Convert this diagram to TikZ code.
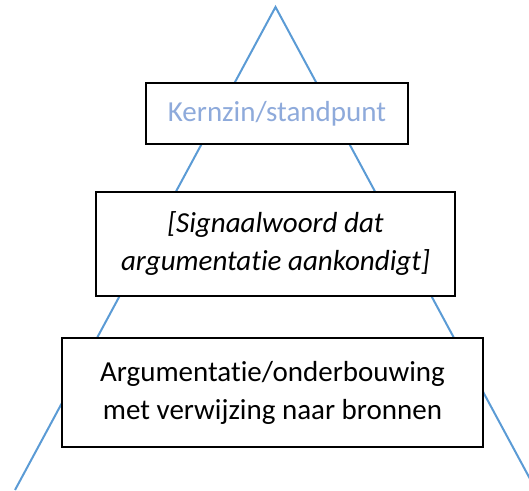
\documentclass[tikz,border=0pt]{standalone}
\usepackage{fontspec}
\setmainfont{Carlito}[Ligatures=NoCommon]
\definecolor{lineblue}{HTML}{5B9BD5}
\definecolor{textblue}{HTML}{8EAADB}
\begin{document}
\begin{tikzpicture}[x=1pt,y=-1pt,
  box/.style={draw=black,fill=white,line width=1.2pt,inner sep=0pt,align=center,font=\fontsize{29}{38}\selectfont},
  side/.style={draw=lineblue,line width=2pt}]
\useasboundingbox (0,0) rectangle (529,490);
\begin{scope}
\clip (0,0) rectangle (529,490);
\coordinate (apex) at (275.5,7);
\coordinate (bl) at (15,490);
\coordinate (br) at (536,490);
\draw[side] (bl) -- (apex) -- (br);
\end{scope}
\node[box,line width=1.6pt,minimum width=262pt,minimum height=61pt,text=textblue] (k) at (277,113.5) {Kernzin/standpunt};
\node[box,minimum width=359pt,minimum height=104pt,font=\fontsize{29}{38}\selectfont\itshape] (s) at (275.5,244) {[Signaalwoord dat\\argumentatie aankondigt]};
\node[box,minimum width=421pt,minimum height=109pt,font=\fontsize{29}{38}\selectfont] (a) at (272.5,392.5) {Argumentatie/onderbouwing\\met verwijzing naar bronnen};
\end{tikzpicture}
\end{document}
